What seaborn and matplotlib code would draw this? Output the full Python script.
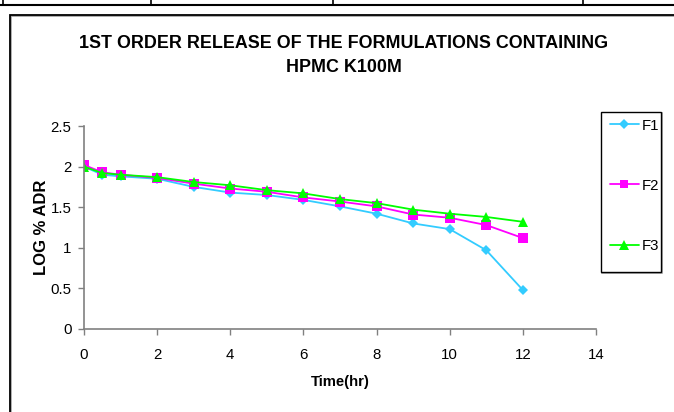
import matplotlib
matplotlib.use("Agg")
import matplotlib.pyplot as plt
from matplotlib.lines import Line2D
from matplotlib.patches import Rectangle
import seaborn as sns
import pandas as pd

time_hr = [0, 0.5, 1, 2, 3, 4, 5, 6, 7, 8, 9, 10, 11, 12]
f1 = [2.00, 1.90, 1.88, 1.85, 1.75, 1.68, 1.65, 1.59, 1.51, 1.42, 1.30, 1.23, 0.97, 0.48]
f2 = [2.02, 1.93, 1.90, 1.86, 1.79, 1.73, 1.69, 1.62, 1.57, 1.51, 1.41, 1.37, 1.28, 1.12]
f3 = [2.00, 1.92, 1.90, 1.87, 1.81, 1.77, 1.71, 1.67, 1.60, 1.55, 1.47, 1.42, 1.38, 1.32]
series_names = ["F1", "F2", "F3"]
x_ticks = [0, 2, 4, 6, 8, 10, 12, 14]
y_ticks = [0, 0.5, 1, 1.5, 2, 2.5]
y_tick_labels = ["0", "0.5", "1", "1.5", "2", "2.5"]

rows = []
for name, vals in zip(series_names, [f1, f2, f3]):
    for t, v in zip(time_hr, vals):
        rows.append({"Time": t, "Value": v, "Series": name})
df = pd.DataFrame(rows)

sns.set_theme(style="white")
plt.rcParams["font.family"] = ["Liberation Sans", "DejaVu Sans"]
plt.rcParams["text.color"] = "black"
plt.rcParams["axes.labelcolor"] = "black"

W, H = 674, 412
fig = plt.figure(figsize=(W / 100, H / 100), dpi=100)
ax = fig.add_axes([84 / W, 1 - 329 / H, (596 - 84) / W, (329 - 126) / H])

colors = {"F1": "#33CCFF", "F2": "#FF00FF", "F3": "#00FF00"}
markers = {"F1": "D", "F2": "s", "F3": "^"}
sizes = {"F1": 5.5, "F2": 6.5, "F3": 7.5}
for name in series_names:
    sub = df[df["Series"] == name]
    sns.lineplot(data=sub, x="Time", y="Value", ax=ax, color=colors[name],
                 marker=markers[name], markersize=sizes[name], markeredgewidth=0,
                 linewidth=1.3, legend=False)

ax.set_xlim(0, 14)
ax.set_ylim(0, 2.5)
ax.set_xticks(x_ticks)
ax.set_yticks(y_ticks)
ax.set_xticklabels([str(v) for v in x_ticks], fontsize=10.8)
ax.set_yticklabels(y_tick_labels, fontsize=10.8)
for s in ["top", "right"]:
    ax.spines[s].set_visible(False)
for s in ["left", "bottom"]:
    ax.spines[s].set_color("#808080")
    ax.spines[s].set_linewidth(1.2)
ax.tick_params(axis="x", direction="out", length=4, width=1, color="#808080",
               pad=10, labelcolor="black", bottom=True)
ax.tick_params(axis="y", direction="out", length=4, width=1, color="#808080",
               pad=5, labelcolor="black", left=True)
ax.set_xlabel("Time(hr)", fontsize=10.7, fontweight="bold", labelpad=9)
ax.set_ylabel("LOG % ADR", fontsize=12, fontweight="bold", labelpad=1)
ax.patch.set_alpha(0)

fig.text(344 / W, 1 - 43 / H, "1ST ORDER RELEASE OF THE FORMULATIONS CONTAINING",
         ha="center", va="center", fontsize=12.9, fontweight="bold")
fig.text(344 / W, 1 - 68 / H, "HPMC K100M", ha="center", va="center",
         fontsize=12.9, fontweight="bold")

# outer frame
fig.add_artist(Rectangle((11 / W, -0.1), 1.2, 1 - 16 / H + 0.1, transform=fig.transFigure,
                         fill=False, edgecolor="#A0A0A0", linewidth=1.2))
fig.add_artist(Rectangle((10 / W, -0.1), 1.2, 1 - 15 / H + 0.1, transform=fig.transFigure,
                         fill=False, edgecolor="black", linewidth=1.3))
# table remnants at top
fig.add_artist(Line2D([0, 1], [1 - 5 / H, 1 - 5 / H], transform=fig.transFigure,
                      color="black", linewidth=1.5))
for xp in [3, 151, 333, 583]:
    fig.add_artist(Line2D([xp / W, xp / W], [1 - 5 / H, 1.0], transform=fig.transFigure,
                          color="black", linewidth=1.2))

# legend box (drawn separately) with shadow
fig.add_artist(Rectangle((602 / W, 1 - 273 / H), 60 / W, 160 / H, transform=fig.transFigure,
                         fill=False, edgecolor="#A0A0A0", linewidth=1.2, zorder=1))
fig.add_artist(Rectangle((601 / W, 1 - 272 / H), 60 / W, 160 / H, transform=fig.transFigure,
                         fill=True, facecolor="white", edgecolor="black", linewidth=1.0,
                         zorder=1))

handles = [Line2D([], [], color=colors[n], marker=markers[n], markersize=sizes[n] - 0.5,
                  markeredgewidth=0, linewidth=1.3) for n in series_names]
leg = fig.legend(handles, series_names, loc="upper left",
                 bbox_to_anchor=(605 / W, 1 - 114 / H), borderaxespad=0,
                 frameon=False, fontsize=10.8, handlelength=1.95, handletextpad=0.2,
                 labelspacing=3.08, borderpad=0.3)
leg.set_zorder(10)

fig.savefig("out.png", dpi=100, facecolor="white")
